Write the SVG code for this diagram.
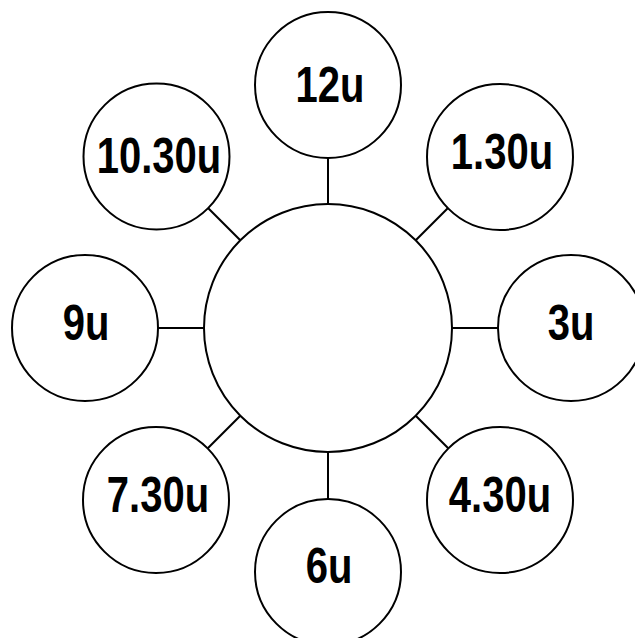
<svg xmlns="http://www.w3.org/2000/svg" width="635" height="638" viewBox="0 0 635 638">
<style>
.n{fill:#fff;stroke:#000;stroke-width:2}
.c line{stroke:#000;stroke-width:2}
.t{font-family:"Liberation Sans",Arial,sans-serif;font-weight:bold;font-size:40px;text-anchor:middle;fill:#000}
</style>
<rect width="635" height="638" fill="#fff"/>
<g id="connectors" class="c">
<line x1="328" y1="158" x2="328" y2="204"/>
<line x1="415.7" y1="240.3" x2="448.2" y2="207.8"/>
<line x1="452" y1="328" x2="498" y2="328"/>
<line x1="415.7" y1="415.7" x2="448.2" y2="448.2"/>
<line x1="328" y1="452" x2="328" y2="499"/>
<line x1="240.3" y1="415.7" x2="207.8" y2="448.2"/>
<line x1="158" y1="328" x2="204" y2="328"/>
<line x1="240.3" y1="240.3" x2="207.8" y2="207.8"/>
</g>
<g id="center"><circle class="n" cx="328" cy="328" r="124"/></g>
<g id="n12"><circle class="n" cx="328" cy="85" r="73"/><text class="t" transform="translate(330,101.5) scale(1,1.26)">12u</text></g>
<g id="n130"><circle class="n" cx="500" cy="157" r="73"/><text class="t" transform="translate(502,169) scale(1,1.26)">1.30u</text></g>
<g id="n3"><circle class="n" cx="571" cy="328" r="73"/><text class="t" transform="translate(571,340) scale(1,1.26)">3u</text></g>
<g id="n430"><circle class="n" cx="500" cy="500" r="73"/><text class="t" transform="translate(500,511.5) scale(1,1.26)">4.30u</text></g>
<g id="n6"><circle class="n" cx="328" cy="572" r="73"/><text class="t" transform="translate(329,583) scale(1,1.26)">6u</text></g>
<g id="n730"><circle class="n" cx="156" cy="500" r="73"/><text class="t" transform="translate(158,511.5) scale(1,1.26)">7.30u</text></g>
<g id="n9"><circle class="n" cx="85" cy="328" r="73"/><text class="t" transform="translate(86,340) scale(1,1.26)">9u</text></g>
<g id="n1030"><circle class="n" cx="156.5" cy="156.5" r="73"/><text class="t" transform="translate(159,172.5) scale(1,1.26)">10.30u</text></g>
</svg>
